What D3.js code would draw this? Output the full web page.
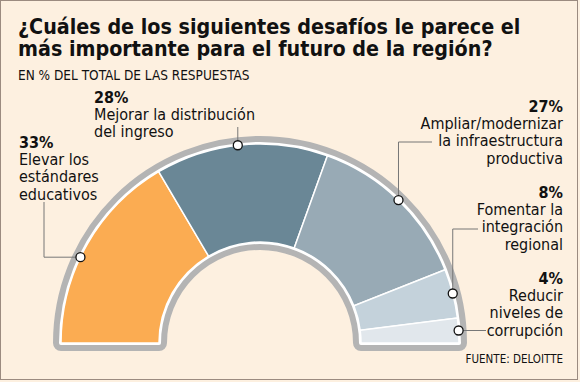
<!DOCTYPE html>
<html>
<head>
<meta charset="utf-8">
<script src="https://cdn.jsdelivr.net/npm/d3@7"></script>
<style>
  body { margin: 0; background: #fdf0e0; }
  text { font-family: "DejaVu Sans Condensed", "DejaVu Sans", sans-serif; font-stretch: condensed; fill: #111; }
</style>
</head>
<body>
<svg id="chart" width="580" height="382"></svg>
<script>
// Data
const titleLines = ["¿Cuáles de los siguientes desafíos le parece el", "más importante para el futuro de la región?"];
const subtitle = "EN % DEL TOTAL DE LAS RESPUESTAS";
const source = "FUENTE: DELOITTE";
const categories = [
	"Elevar los\nestándares\neducativos",
	"Mejorar la distribución\ndel ingreso",
	"Ampliar/modernizar\nla infraestructura\nproductiva",
	"Fomentar la\nintegración\nregional",
	"Reducir\nniveles de\ncorrupción"
];
const values = [33, 28, 27, 8, 4];
const colors = ["#fbac52", "#6a8796", "#98aab5", "#c4d2db", "#e1e7ec"];

// Label layout (text block position, where the dot sits in its slice, leader route)
const labelLayout = [
	{ x: 19, y: 148, anchor: "start", frac: 0.43, route: [["h", 44], ["v", 202]] },
	{ x: 94, y: 103, anchor: "start", frac: 0.48, route: [["v", 127]] },
	{ x: 563, y: 112, anchor: "end", frac: 0.5, route: [["v", 142], ["h", 432]] },
	{ x: 563, y: 198, anchor: "end", frac: 0.5, route: [["v", 229], ["h", 478]] },
	{ x: 563, y: 284, anchor: "end", frac: 0.5, route: [["h", 486]] }
];

const svg = d3.select("#chart");
const cx = 260, cy = 343;
const outerR = 199, innerR = 101;
const lineH = 17.2;

// frame
svg.append("rect")
	.attr("x", 0.5).attr("y", 0.5)
	.attr("width", 577).attr("height", 379)
	.attr("fill", "#fdf0e0")
	.attr("stroke", "#9b8b80");

// title
svg.append("g")
	.selectAll("text")
	.data(titleLines)
	.join("text")
	.attr("x", 18)
	.attr("y", (d, i) => 34 + i * 22)
	.style("font-size", "21.3px")
	.style("font-weight", "bold")
	.text((d) => d);

svg.append("text")
	.attr("x", 18).attr("y", 80)
	.style("font-size", "13.5px")
	.text(subtitle);

svg.append("text")
	.attr("x", 563).attr("y", 363)
	.attr("text-anchor", "end")
	.style("font-size", "11.5px")
	.text(source);

// half donut
const pie = d3.pie()
	.sort(null)
	.startAngle(-Math.PI / 2)
	.endAngle(Math.PI / 2);
const arcs = pie(values);
const arc = d3.arc().innerRadius(innerR).outerRadius(outerR);

const g = svg.append("g").attr("transform", `translate(${cx},${cy})`);

const outline = arc({ startAngle: -Math.PI / 2, endAngle: Math.PI / 2 });
g.append("path")
	.attr("d", outline)
	.attr("fill", "none")
	.attr("stroke", "#b4b4b4")
	.attr("stroke-width", 16)
	.attr("stroke-linejoin", "round");
g.append("path")
	.attr("d", outline)
	.attr("fill", "#fff")
	.attr("stroke", "#fff")
	.attr("stroke-width", 4)
	.attr("stroke-linejoin", "round");

g.selectAll("path.slice")
	.data(arcs)
	.join("path")
	.attr("class", "slice")
	.attr("d", arc)
	.attr("fill", (d, i) => colors[i])
	.attr("stroke", "#fff")
	.attr("stroke-width", 1.5);

// leaders and dots
const dots = arcs.map((d, i) => {
	const a = d.startAngle + (d.endAngle - d.startAngle) * labelLayout[i].frac;
	return [cx + outerR * Math.sin(a), cy - outerR * Math.cos(a)];
});

svg.selectAll("path.leader")
	.data(dots)
	.join("path")
	.attr("class", "leader")
	.attr("fill", "none")
	.attr("stroke", "#777")
	.attr("stroke-width", 1)
	.attr("d", (d, i) => {
		let x = d[0], y = d[1];
		const p = d3.path();
		p.moveTo(x, y);
		labelLayout[i].route.forEach(([dir, v]) => {
			if (dir === "h") x = v; else y = v;
			p.lineTo(x, y);
		});
		return p.toString();
	});

svg.selectAll("circle.dot")
	.data(dots)
	.join("circle")
	.attr("class", "dot")
	.attr("cx", (d) => d[0])
	.attr("cy", (d) => d[1])
	.attr("r", 4.5)
	.attr("fill", "#fff")
	.attr("stroke", "#111")
	.attr("stroke-width", 1.3);

// labels
const labels = svg.selectAll("g.label")
	.data(arcs)
	.join("g")
	.attr("class", "label");

labels.append("text")
	.attr("x", (d, i) => labelLayout[i].x)
	.attr("y", (d, i) => labelLayout[i].y)
	.attr("text-anchor", (d, i) => labelLayout[i].anchor)
	.style("font-size", "16px")
	.style("font-weight", "bold")
	.text((d) => d.data + "%");

labels.each(function (d, i) {
	const L = labelLayout[i];
	d3.select(this)
		.selectAll("text.cat")
		.data(categories[i].split("\n"))
		.join("text")
		.attr("class", "cat")
		.attr("x", L.x)
		.attr("y", (t, j) => L.y + (j + 1) * lineH)
		.attr("text-anchor", L.anchor)
		.style("font-size", "16px")
		.text((t) => t);
});
</script>
</body>
</html>
